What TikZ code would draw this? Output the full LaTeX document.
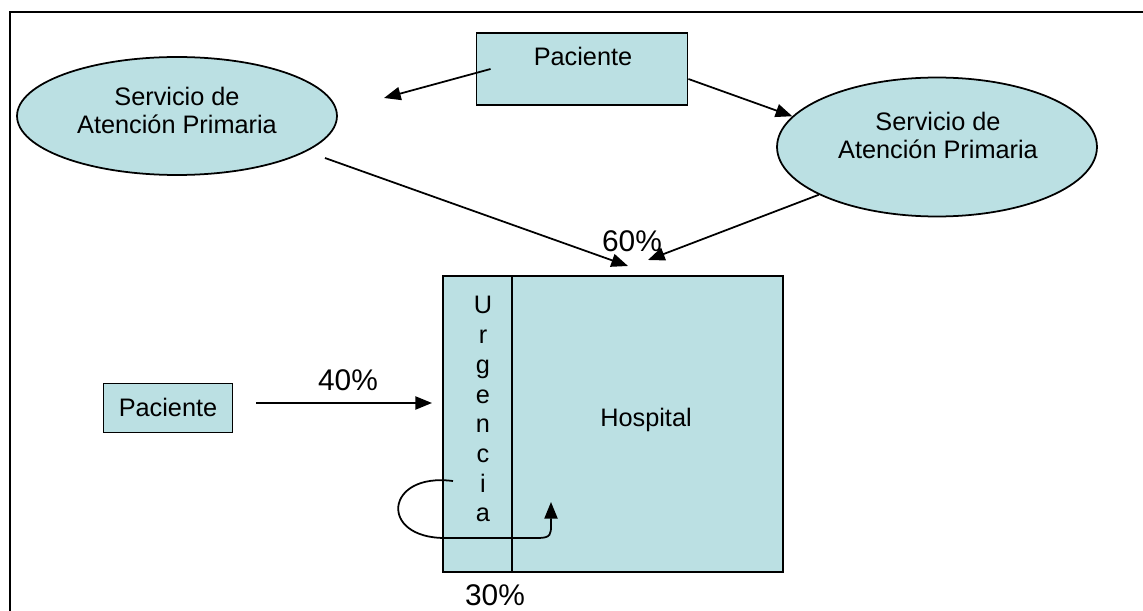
\documentclass[tikz,border=0pt]{standalone}
\usepackage{fontspec}
\setmainfont{Liberation Sans}
\usepackage{xcolor}
\usepackage{tikz}
\usetikzlibrary{arrows.meta, positioning, shapes.geometric, calc}

\definecolor{celeste}{RGB}{187,224,227}
\tikzset{
  caja/.style={draw, line width=1.1pt, fill=celeste, inner sep=0pt},
  servicio/.style={ellipse, draw, line width=1pt, fill=celeste, inner sep=0pt},
  flecha/.style={-{Triangle[length=9.5pt,width=7.5pt]}, line width=1pt},
  pct/.style={anchor=base, inner sep=0pt, font=\fontsize{17}{20}\selectfont}
}

\begin{document}
\begin{tikzpicture}[x=0.02cm, y=-0.02cm, font=\fontsize{14.4}{15.9}\selectfont]
\useasboundingbox (0,0) rectangle (1143,611);
% marco
\draw[line width=1.3pt] (10,611) -- (10,12) -- (1143,12);

% Paciente arriba
\node[caja, minimum width=4.22cm, minimum height=1.44cm] (pac1) at (582,69) {};
\node[anchor=base, inner sep=0pt] (pac1lbl) at (583,66) {Paciente};

% Servicios
\node[servicio, minimum width=6.4cm, minimum height=2.36cm] (sap1) at (177,116) {};
\node[align=center, inner sep=0pt] (sap1lbl) at (177,110) {Servicio de\\Atención Primaria};
\node[servicio, minimum width=6.4cm, minimum height=2.78cm] (sap2) at (937,147) {};
\node[align=center, inner sep=0pt] (sap2lbl) at (938,135) {Servicio de\\Atención Primaria};

% Hospital y urgencia
\node[caja, anchor=north west, minimum width=6.8cm, minimum height=5.92cm] (hosp) at (442,275) {};
\node[caja, anchor=north west, minimum width=1.38cm, minimum height=5.92cm] (urg) at (442,275) {};
\node[anchor=base, inner sep=0pt] (hosplbl) at (646,426) {Hospital};
\foreach \l [count=\i] in {U,r,g,e,n,c,i,a}
  \node[anchor=base, inner sep=0pt] (urg\i) at (483,{314+29.7*(\i-1)}) {\l};

% Paciente izquierda
\node[caja, minimum width=2.58cm, minimum height=0.98cm] (pac2) at (168,408) {};
\node[anchor=base, inner sep=0pt] (pac2lbl) at (168,416) {Paciente};

% flechas
\coordinate (f1) at (384,98);
\coordinate (s1) at (325,158);
\coordinate (f2) at (628,266);
\coordinate (f3) at (648,260);
\coordinate (f4) at (432,403);
\draw[flecha] ($(pac1.west)+(15,0)$) -- (f1);
\draw[flecha] ($(pac1.east)+(0,10)$) -- (sap2.168);
\draw[flecha] (s1) -- (f2);
\draw[flecha] (sap2.202) -- (f3);
\draw[flecha] ($(pac2.east)+(23,-5)$) -- (f4);
\draw[flecha] ($(urg7)+(-30,-2)$) .. controls (385,472) and (378,538) .. (445,538)
  -- (538,538) .. controls (551,538) and (551,534) .. (551,525) -- (551,502);

% porcentajes
\node[pct] (p40) at (348,390) {40\%};
\node[pct] (p60) at (632,252) {60\%};
\node[pct] (p30) at (495,605) {30\%};
\end{tikzpicture}
\end{document}
